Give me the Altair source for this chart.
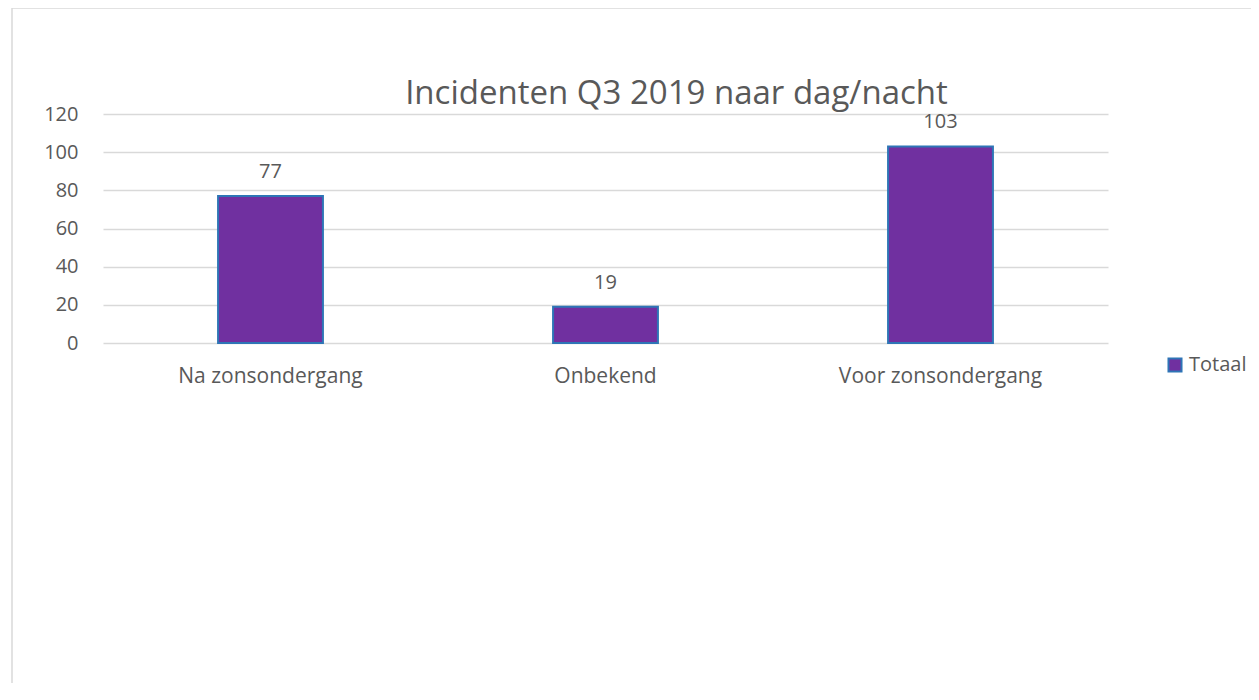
import altair as alt
import pandas as pd

categories = ["Na zonsondergang", "Onbekend", "Voor zonsondergang"]
values = [77, 19, 103]
series_name = "Totaal"
y_ticks = [0, 20, 40, 60, 80, 100, 120]
title_text = "Incidenten Q3 2019 naar dag/nacht"

df = pd.DataFrame({"cat": categories, "val": values, "series": [series_name] * len(categories)})

FONT = "Open Sans"
TXT = "#595959"
GRID = "#D9D9D9"
FILL = "#7030A0"
STROKE = "#2E75B6"

x_enc = alt.X("cat:N", sort=categories,
              scale=alt.Scale(paddingInner=0.687, paddingOuter=0.3435),
              axis=alt.Axis(title=None, labelAngle=0, labelFontSize=21, labelColor=TXT,
                            labelFont=FONT, ticks=False, domain=False, labelPadding=22,
                            labelLimit=0, grid=False))
y_enc = alt.Y("val:Q", scale=alt.Scale(domain=[0, 120], nice=False),
              axis=alt.Axis(title=None, values=y_ticks, labelFontSize=20, labelColor=TXT,
                            labelFont=FONT, ticks=False, domain=False, labelPadding=25,
                            gridColor=GRID, gridWidth=1.5))

base = alt.Chart(df)

bars = base.mark_bar(stroke=STROKE, strokeWidth=2).encode(
    x=x_enc,
    y=y_enc,
    fill=alt.Fill("series:N", scale=alt.Scale(range=[FILL]),
                  legend=alt.Legend(title=None, orient="none", legendX=1062, legendY=241,
                                    symbolType="square", symbolSize=170,
                                    symbolStrokeColor=STROKE, symbolStrokeWidth=2,
                                    labelFontSize=20, labelColor=TXT, labelFont=FONT,
                                    labelOffset=4, labelLimit=0)),
)

labels = base.mark_text(baseline="alphabetic", dy=-18, fontSize=20, font=FONT, color=TXT).encode(
    x=x_enc,
    y=y_enc,
    text=alt.Text("val:Q"),
)

border = alt.Chart(alt.Data(values=[{}])).mark_rect(
    fill=None, stroke=GRID, strokeWidth=1.5
).encode(
    x=alt.value(-91), x2=alt.value(1400), y=alt.value(-106), y2=alt.value(800)
)

title = alt.Chart(alt.Data(values=[{"t": title_text}])).mark_text(
    fontSize=33, font=FONT, color=TXT, baseline="alphabetic", align="center"
).encode(
    x=alt.value(573.5), y=alt.value(-10), text="t:N"
)

chart = alt.layer(border, bars, labels, title).properties(
    width=1005,
    height=229,
    padding={"left": 95, "top": 106, "right": 143, "bottom": 340},
    autosize=alt.AutoSizeParams(type="none"),
    background="white",
).configure_view(strokeWidth=0, stroke="transparent")

chart.save("out.html", embed_options={"renderer": "svg", "actions": False})
